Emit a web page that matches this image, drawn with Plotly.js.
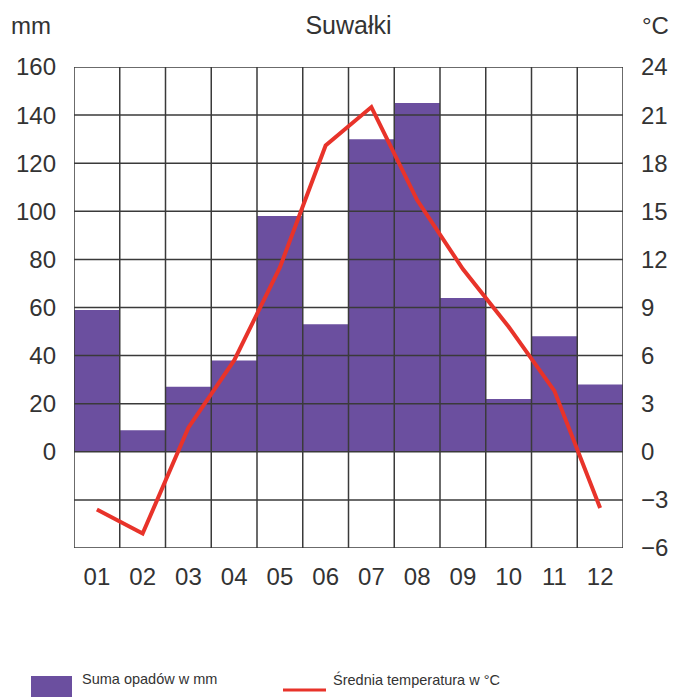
<!DOCTYPE html>
<html>
<head>
<meta charset="utf-8">
<script src="https://cdn.plot.ly/plotly-3.0.1.min.js"></script>
<style>html,body{margin:0;padding:0;background:#fff;}#chart{width:673px;height:697px;}</style>
</head>
<body>
<div id="chart"></div>
<script>
// ---- data ----
const months = ['01','02','03','04','05','06','07','08','09','10','11','12'];
const precipitation = [59, 9, 27, 38, 98, 53, 130, 145, 64, 22, 48, 28];   // mm
const temperature = [-3.6, -5.1, 1.5, 5.7, 11.5, 19.1, 21.5, 15.7, 11.4, 7.8, 3.8, -3.5]; // °C
const mmTicks = [-40, -20, 0, 20, 40, 60, 80, 100, 120, 140, 160];
const mmTickText = ['', '', '0', '20', '40', '60', '80', '100', '120', '140', '160'];
const tempTicks = [-6, -3, 0, 3, 6, 9, 12, 15, 18, 21, 24];
const title = 'Suwałki';
const legendBars = 'Suma opadów w mm';
const legendLine = 'Średnia temperatura w °C';

const FONT = 'Liberation Sans, Arial, sans-serif';
const TXT = '#333333';
const xIdx = months.map((m, i) => i + 1);

// grid lines (drawn as a trace so they sit above the bars, below the line)
const gx = [], gy = [];
const xMin = 0.5, xMax = months.length + 0.5;
const yMin = mmTicks[0], yMax = mmTicks[mmTicks.length - 1];
for (let i = 0; i <= months.length; i++) {
  gx.push(i + 0.5, i + 0.5, null); gy.push(yMin, yMax, null);
}
mmTicks.forEach(v => { gx.push(xMin, xMax, null); gy.push(v, v, null); });

const traces = [
  {type: 'bar', x: xIdx, y: precipitation, width: 1, name: legendBars,
   marker: {color: '#6b4f9f', line: {width: 0}}, xaxis: 'x', yaxis: 'y', hoverinfo: 'y'},
  {type: 'scatter', mode: 'lines', x: gx, y: gy, line: {color: '#3a3a3a', width: 1.5},
   xaxis: 'x', yaxis: 'y', hoverinfo: 'skip', showlegend: false},
  {type: 'scatter', mode: 'lines', x: xIdx, y: temperature, name: legendLine,
   line: {color: '#e8332a', width: 4}, xaxis: 'x', yaxis: 'y2'}
];

const L = 74, R = 50, T = 67, B = 149;
const W = 673, H = 697;
const pw = W - L - R, ph = H - T - B;
const px = p => (p - L) / pw;
const py = p => (H - B - p) / ph;

const layout = {
  width: W, height: H,
  margin: {l: L, r: R, t: T, b: B, pad: 0},
  paper_bgcolor: '#ffffff', plot_bgcolor: '#ffffff',
  showlegend: false,
  font: {family: FONT, color: TXT, size: 24},
  title: {text: title, font: {family: FONT, size: 25, color: TXT},
          x: 0.5, xref: 'paper', xanchor: 'center', y: 1 - 25 / H, yanchor: 'middle', yref: 'container'},
  xaxis: {range: [xMin, xMax], tickvals: xIdx, ticktext: months, showgrid: false, zeroline: false,
          showline: false, ticks: '', ticklabelstandoff: 12, tickfont: {size: 24, color: TXT}, fixedrange: true},
  yaxis: {range: [yMin, yMax], tickvals: mmTicks, ticktext: mmTickText, showgrid: false, zeroline: false,
          showline: false, ticks: '', ticklabelstandoff: 17, tickfont: {size: 24, color: TXT}, fixedrange: true},
  yaxis2: {range: [tempTicks[0], tempTicks[tempTicks.length - 1]], tickvals: tempTicks, overlaying: 'y', side: 'right',
           showgrid: false, zeroline: false, showline: false, ticks: '', ticklabelstandoff: 17,
           tickfont: {size: 24, color: TXT}, fixedrange: true},
  annotations: [
    {text: 'mm', xref: 'paper', yref: 'paper', x: px(31), y: py(25), xanchor: 'center', yanchor: 'middle',
     showarrow: false, font: {size: 24, color: TXT}},
    {text: '°C', xref: 'paper', yref: 'paper', x: px(655), y: py(25), xanchor: 'center', yanchor: 'middle',
     showarrow: false, font: {size: 24, color: TXT}},
    {text: legendBars, xref: 'paper', yref: 'paper', x: px(80), y: py(679), xanchor: 'left', yanchor: 'middle',
     showarrow: false, font: {size: 14.5, color: TXT}},
    {text: legendLine, xref: 'paper', yref: 'paper', x: px(331), y: py(679), xanchor: 'left', yanchor: 'middle',
     showarrow: false, font: {size: 14.5, color: TXT}}
  ],
  shapes: [
    {type: 'rect', xref: 'paper', yref: 'paper', x0: px(31), x1: px(72), y0: py(676), y1: py(700),
     fillcolor: '#6b4f9f', line: {width: 0}},
    {type: 'line', xref: 'paper', yref: 'paper', x0: px(283), x1: px(326), y0: py(690), y1: py(690),
     line: {color: '#e8332a', width: 3}}
  ]
};

Plotly.newPlot('chart', traces, layout, {displayModeBar: false, staticPlot: true});
</script>
</body>
</html>
